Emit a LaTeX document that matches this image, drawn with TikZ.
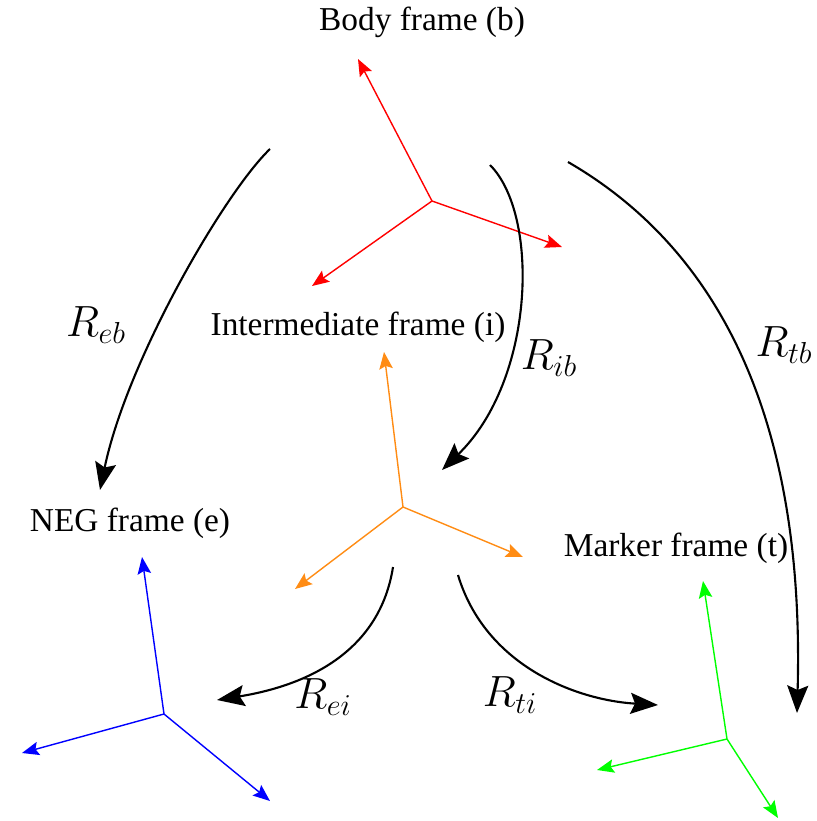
\documentclass[tikz,border=0pt]{standalone}
\usepackage{fontspec}
\setmainfont{Liberation Serif}
\usetikzlibrary{arrows.meta}
\usetikzlibrary{positioning}
\definecolor{frameorange}{RGB}{255,140,20}
\tikzset{
  axis/.style={line width=0.8pt,-{Stealth[length=0.34cm,width=0.27cm,inset=0.06cm]}},
  rot/.style={line width=1.2pt,-{Stealth[length=0.55cm,width=0.42cm,inset=0.09cm]}},
  framelabel/.style={font=\fontsize{19}{23}\selectfont,inner sep=0pt},
  rotlabel/.style={font=\fontsize{23}{27}\selectfont,inner sep=0pt}
}

\begin{document}
\begin{tikzpicture}[x=0.02cm,y=-0.02cm]
\useasboundingbox (0,0) rectangle (817,821);

% frame origins
\coordinate (b) at (432,201);
\coordinate (i) at (403,507);
\coordinate (e) at (164,714);
\coordinate (t) at (727,739);

% body frame
\draw[axis,red] (b) -- (358,59);
\draw[axis,red] (b) -- (562,247);
\draw[axis,red] (b) -- (312,286);
% intermediate frame
\draw[axis,frameorange] (i) -- (384,352);
\draw[axis,frameorange] (i) -- (523,557);
\draw[axis,frameorange] (i) -- (295,589);
% NEG frame
\draw[axis,blue] (e) -- (142,557);
\draw[axis,blue] (e) -- (22,753);
\draw[axis,blue] (e) -- (270,801);
% marker frame
\draw[axis,green] (t) -- (703,581);
\draw[axis,green] (t) -- (597,770);
\draw[axis,green] (t) -- (778,818);

\node[framelabel] (lb) at (422,22) {Body frame (b)};
\node[framelabel] (li) at (358,327) {Intermediate frame (i)};
\node[framelabel] (le) at (130,523) {NEG frame (e)};
\node[framelabel] (lt) at (676,548) {Marker frame (t)};

% rotations
\coordinate (ebs) at (270,149);  \coordinate (ebe) at (100,490);
\coordinate (ibs) at (490,165);  \coordinate (ibe) at (442,470);
\coordinate (tbs) at (568,162);  \coordinate (tbe) at (797,713);
\coordinate (eis) at (393,567);  \coordinate (eie) at (217,700);
\coordinate (tis) at (458,575);  \coordinate (tie) at (658,705);

\draw[rot] (ebs) .. controls (225,192) and (127,360) .. (ebe);
\draw[rot] (ibs) .. controls (540,215) and (535,380) .. (ibe);
\draw[rot] (tbs) .. controls (720,250) and (805,420) .. (tbe);
\draw[rot] (eis) .. controls (380,650) and (310,685) .. (eie);
\draw[rot] (tis) .. controls (485,665) and (575,700) .. (tie);

\node[rotlabel] (reb) at (96,325) {$R_{eb}$};
\node[rotlabel] (rib) at (549,358) {$R_{ib}$};
\node[rotlabel] (rtb) at (784,345) {$R_{tb}$};
\node[rotlabel] (rei) at (323,697) {$R_{ei}$};
\node[rotlabel] (rti) at (510,695) {$R_{ti}$};

\end{tikzpicture}
\end{document}
